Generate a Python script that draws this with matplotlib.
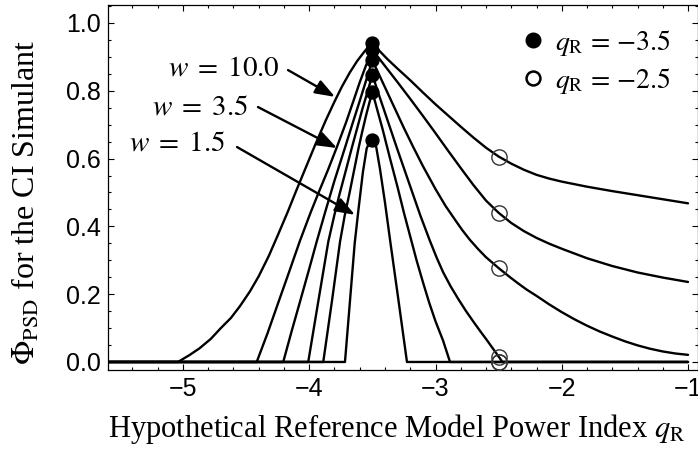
import matplotlib.pyplot as plt
from matplotlib.ticker import MultipleLocator, FormatStrFormatter

plt.rcParams['font.family'] = 'Liberation Serif'
plt.rcParams['mathtext.fontset'] = 'stix'

# curves, widest (w = 10.0) to narrowest (w = 1.5)
q_a = [-5.6, -5.04, -4.95, -4.87, -4.78, -4.7, -4.62, -4.55, -4.47, -4.4, -4.32, -4.25, -4.17,
       -4.1, -4.02, -3.95, -3.87, -3.8, -3.74, -3.68, -3.62, -3.56, -3.5,
       -3.45, -3.38, -3.3, -3.2, -3.1, -3.0, -2.9, -2.8, -2.7, -2.6, -2.5, -2.4, -2.3,
       -2.2, -2.1, -2.0, -1.8, -1.6, -1.4, -1.2, -1.0]
phi_a = [0, 0, 0.02, 0.04, 0.068, 0.1, 0.13, 0.164, 0.208, 0.253, 0.313, 0.373, 0.443,
         0.508, 0.58, 0.643, 0.712, 0.768, 0.813, 0.853, 0.888, 0.917, 0.94,
         0.92, 0.893, 0.865, 0.831, 0.795, 0.76, 0.727, 0.694, 0.662, 0.632, 0.606, 0.585, 0.567,
         0.552, 0.541, 0.532, 0.517, 0.504, 0.492, 0.48, 0.468]

q_b = [-5.6, -4.416, -4.33, -4.25, -4.16, -4.073, -3.99, -3.92, -3.85, -3.783, -3.71, -3.65,
       -3.6, -3.55, -3.5,
       -3.45, -3.4, -3.3, -3.2, -3.1, -3.0, -2.9, -2.8, -2.7, -2.6, -2.5, -2.4, -2.3, -2.2,
       -2.1, -2.0, -1.8, -1.6, -1.4, -1.2, -1.0]
phi_b = [0, 0, 0.085, 0.17, 0.265, 0.358, 0.44, 0.505, 0.568, 0.632, 0.705, 0.77,
         0.825, 0.875, 0.92,
         0.897, 0.873, 0.825, 0.776, 0.726, 0.675, 0.623, 0.572, 0.522, 0.476, 0.44, 0.41,
         0.386, 0.366, 0.349, 0.334, 0.306, 0.283, 0.264, 0.249, 0.236]

q_c = [-5.6, -4.206, -4.14, -4.07, -4.0, -3.941, -3.87, -3.8, -3.717, -3.66, -3.6, -3.55, -3.5,
       -3.45, -3.4, -3.325, -3.25, -3.175, -3.1, -3.0, -2.92, -2.85, -2.79, -2.727, -2.66,
       -2.6, -2.5, -2.42, -2.35, -2.28, -2.2, -2.1, -2.0, -1.9, -1.8, -1.7, -1.6, -1.5,
       -1.4, -1.3, -1.2, -1.1, -1.0]
phi_c = [0, 0, 0.09, 0.182, 0.275, 0.355, 0.447, 0.535, 0.632, 0.7, 0.77, 0.83, 0.89,
         0.85, 0.81, 0.75, 0.69, 0.633, 0.578, 0.51, 0.46, 0.422, 0.39, 0.36, 0.332,
         0.309, 0.277, 0.253, 0.233, 0.214, 0.195, 0.17, 0.147, 0.126, 0.107, 0.09, 0.075, 0.061,
         0.049, 0.039, 0.031, 0.025, 0.021]

q_d = [-5.6, -4.008, -3.93, -3.849, -3.8, -3.76, -3.71, -3.664, -3.62, -3.58, -3.54, -3.5,
       -3.45, -3.4, -3.3, -3.19, -3.12, -3.044, -2.99, -2.94, -2.88, -2.82, -2.76, -2.7,
       -2.65, -2.6, -2.55, -2.5, -2.47, -1.0]
phi_d = [0, 0, 0.175, 0.355, 0.435, 0.495, 0.565, 0.63, 0.69, 0.745, 0.795, 0.847,
         0.79, 0.735, 0.625, 0.507, 0.432, 0.357, 0.307, 0.265, 0.223, 0.186, 0.151, 0.119,
         0.093, 0.068, 0.042, 0.016, 0, 0]

q_e = [-5.6, -3.889, -3.82, -3.756, -3.72, -3.68, -3.645, -3.611, -3.58, -3.55, -3.525, -3.5,
       -3.46, -3.42, -3.36, -3.3, -3.25, -3.2, -3.15, -3.1, -3.05, -3.0, -2.94, -2.885, -1.0]
phi_e = [0, 0, 0.18, 0.355, 0.43, 0.5, 0.565, 0.628, 0.68, 0.727, 0.763, 0.797,
         0.742, 0.688, 0.6, 0.515, 0.44, 0.37, 0.3, 0.236, 0.175, 0.12, 0.063, 0, 0]

q_f = [-5.6, -3.717, -3.64, -3.61, -3.575, -3.545, -3.52, -3.5,
       -3.47, -3.44, -3.4, -3.36, -3.3, -3.226, -1.0]
phi_f = [0, 0, 0.35, 0.45, 0.56, 0.63, 0.65, 0.655,
         0.635, 0.57, 0.47, 0.36, 0.2, 0, 0]

curves = [(q_a, phi_a), (q_b, phi_b), (q_c, phi_c), (q_d, phi_d), (q_e, phi_e), (q_f, phi_f)]

# marked values at q_R = -3.5 (filled) and q_R = -2.5 (open)
q_filled = -3.5
phi_filled = [0.94, 0.92, 0.89, 0.847, 0.797, 0.655]
q_open = -2.5
phi_open = [0.606, 0.44, 0.277, 0.015, 0.0, 0.0]

w_labels = ['10.0', '3.5', '1.5']

fig = plt.figure(figsize=(6.98, 4.49), dpi=100)
ax = fig.add_axes([0.1547, 0.176, 0.8453, 0.8129])

for q, phi in curves:
    ax.plot(q, phi, color='black', lw=1.7, zorder=2,
            solid_joinstyle='round', solid_capstyle='round')

ax.plot([q_filled] * len(phi_filled), phi_filled, 'o', ms=9.3, color='black',
        zorder=3, label=r'$q_\mathrm{R}\,=\,{-}3.5$')
ax.plot([q_open] * len(phi_open), phi_open, 'o', ms=11, mfc='none', mec='#333333',
        mew=1.0, zorder=3, label=r'$q_\mathrm{R}\,=\,{-}2.5$')

# w labels with arrows
label_xy = [(-4.232, 0.867), (-4.485, 0.752), (-4.667, 0.643)]
arrow_tail = [(-4.168, 0.861), (-4.406, 0.752), (-4.572, 0.634)]
arrow_tip = [(-3.796, 0.782), (-3.780, 0.631), (-3.638, 0.434)]
for lab, (tx, ty), tail, tip in zip(w_labels, label_xy, arrow_tail, arrow_tip):
    ax.text(tx, ty, r'$w\;=\;%s$' % lab, ha='right', va='center', fontsize=21)
    ax.annotate('', xy=tip, xytext=tail,
                arrowprops=dict(arrowstyle='-|>,head_length=0.6,head_width=0.22',
                                mutation_scale=20, lw=1.7, color='black',
                                shrinkA=0, shrinkB=0))

leg = ax.legend(loc='upper left', bbox_to_anchor=(0.7016, 0.938), frameon=False,
                fontsize=20, handlelength=0.8, handletextpad=0.4, labelspacing=0.3,
                borderpad=0, borderaxespad=0)
leg.legend_handles[0].set_markersize(10.5)
leg.legend_handles[1].set_markersize(10)
leg.legend_handles[1].set_markeredgewidth(1.8)
leg.legend_handles[1].set_markeredgecolor('black')

ax.set_xlim(-5.594, -0.921)
ax.set_ylim(-0.0236, 1.053)
ax.xaxis.set_major_locator(MultipleLocator(1))
ax.xaxis.set_minor_locator(MultipleLocator(0.2))
ax.yaxis.set_major_locator(MultipleLocator(0.2))
ax.yaxis.set_minor_locator(MultipleLocator(0.05))
ax.yaxis.set_major_formatter(FormatStrFormatter('%.1f'))
ax.tick_params(which='both', direction='in', top=True, right=True, width=0.8)
ax.tick_params(which='major', length=4, labelsize=18, pad=5)
ax.tick_params(which='minor', length=2.3)
for lab in ax.get_xticklabels() + ax.get_yticklabels():
    lab.set_family('Liberation Sans')
for s in ax.spines.values():
    s.set_linewidth(0.9)

ax.set_xlabel(r'Hypothetical Reference Model Power Index $q_\mathrm{R}$', fontsize=22)
ax.set_ylabel(r'$\Phi_\mathrm{PSD}$ for the CI Simulant', fontsize=23)
ax.xaxis.set_label_coords(0.49, -0.115)
ax.yaxis.set_label_coords(-0.112, 0.46)

fig.savefig('out.png', dpi=100)
